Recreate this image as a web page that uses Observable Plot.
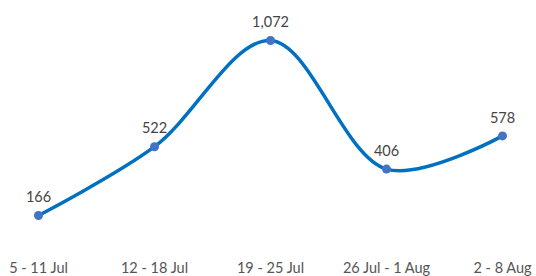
<!DOCTYPE html>
<html>
<head>
<meta charset="utf-8">
<script src="https://cdn.jsdelivr.net/npm/d3@7"></script>
<script src="https://cdn.jsdelivr.net/npm/@observablehq/plot@0.6"></script>
<style>
  html, body { margin: 0; padding: 0; background: #fff; }
  #chart svg { display: block; }
</style>
</head>
<body>
<div id="chart"></div>
<script>
const weeks = ["5 - 11 Jul", "12 - 18 Jul", "19 - 25 Jul", "26 Jul - 1 Aug", "2 - 8 Aug"];
const values = [166, 522, 1072, 406, 578];

const data = weeks.map((w, i) => ({week: w, value: values[i]}));

const chart = Plot.plot({
  width: 536,
  height: 276,
  marginLeft: 37,
  marginRight: 33,
  marginTop: 40,
  marginBottom: 29,
  style: {fontFamily: "Lato, sans-serif", fontSize: "14px", color: "#555", background: "#fff"},
  x: {type: "point", domain: weeks, padding: 0, label: null},
  y: {domain: [0, 1072], axis: null},
  marks: [
    Plot.axisX({tickSize: 0, tickPadding: 15, fontSize: 14.5, fill: "#555", label: null}),
    Plot.line(data, {x: "week", y: "value", curve: "catmull-rom", stroke: "#0070C0", strokeWidth: 3.5}),
    Plot.dot(data, {x: "week", y: "value", r: 4.5, fill: "#4472C4", stroke: "none"}),
    Plot.text(data, {x: "week", y: "value", text: d => d3.format(",")(d.value), dy: -18, fill: "#444", fontSize: 14.5})
  ]
});
document.getElementById("chart").appendChild(chart);
</script>
</body>
</html>
